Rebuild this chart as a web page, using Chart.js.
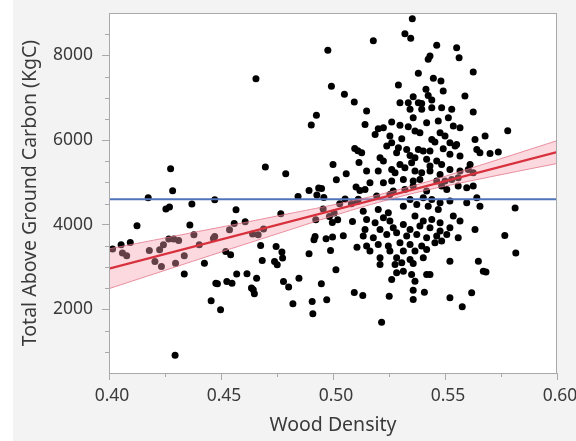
<!DOCTYPE html>
<html><head><meta charset="utf-8">
<script src="https://cdn.jsdelivr.net/npm/chart.js@4.4.1/dist/chart.umd.min.js"></script>
<style>html,body{margin:0;padding:0;background:#f3f3f3;overflow:hidden}#wrap{width:576px;height:441px;position:relative}</style>
</head><body><div id="wrap"><canvas id="c" width="576" height="441"></canvas></div>
<script>
// ---- data ----
const xTickValues = [0.40, 0.45, 0.50, 0.55, 0.60];
const xMinorTicks = [0.425, 0.475, 0.525, 0.575];
const yTickValues = [2000, 4000, 6000, 8000];
const yMinorTicks = [1000, 1500, 2500, 3000, 3500, 4500, 5000, 5500, 6500, 7000, 7500, 8500];
const meanCarbon = 4600;
const fitX = [0.40, 0.60];
const fitY = [2962, 5716];
const bandX = [0.40, 0.42, 0.44, 0.46, 0.48, 0.50, 0.52, 0.54, 0.56, 0.58, 0.60];
const bandUpper = [3432, 3637, 3843, 4048, 4259, 4469, 4704, 4985, 5310, 5646, 5986];
const bandLower = [2492, 2837, 3183, 3528, 3869, 4209, 4524, 4795, 5020, 5236, 5446];
// [wood density, total above ground carbon]
const samples = [
[0.4016,3425],[0.4054,3528],[0.406,3331],[0.4079,3268],[0.4095,3583],[0.4125,3976],[0.4175,4638],[0.418,3394],[0.4205,3134],[0.4226,3409],[0.4234,3016],[0.4243,3528],[0.4254,4370],[0.427,4417],[0.4275,5323],[0.4284,4803],[0.4267,3661],[0.4289,3661],[0.4311,3630],[0.4297,3094],[0.4295,921],[0.4336,3268],[0.4336,2835],[0.4361,3992],[0.437,4488],[0.4379,3764],[0.4403,3528],[0.4426,3094],[0.4456,2205],[0.4466,3677],[0.4472,4590],[0.4472,3724],[0.4477,2622],[0.4484,2606],[0.4498,1992],
[0.4521,3370],[0.4538,3882],[0.4543,3291],[0.4526,2661],[0.4549,2622],[0.4559,4031],[0.4567,4354],[0.457,2835],[0.4608,4071],[0.4616,2843],[0.4636,2504],[0.4644,2465],[0.4649,2370],[0.4641,3780],[0.4656,7449],[0.4659,2740],[0.4666,3764],[0.4677,3512],[0.4684,3157],[0.469,3898],[0.4698,5362],[0.4739,3134],[0.4746,3488],[0.4751,3055],[0.4767,4260],[0.4772,3354],[0.4775,3213],[0.4779,2661],[0.4789,5205],[0.4802,2528],[0.4821,2134],[0.4844,4669],[0.4848,2740],[0.4893,3315],[0.4893,4811],[0.4903,6354],[0.4907,2189],[0.491,1898],[0.4915,3646],[0.492,3724],[0.4923,4118],[0.4926,6583],[0.4928,4701],[0.4936,4866],[0.4948,2606],[0.4949,4858],[0.4956,4370],[0.4959,4646],[0.4969,3669],[0.4972,2228],[0.4977,8118],[0.4984,4197],[0.4989,3394],[0.4993,7268],[0.4997,4055],[0.5,5425],[0.4998,3709],
[0.5005,4276],[0.5013,2937],[0.5015,5063],[0.5021,4118],[0.503,4496],[0.5046,3740],[0.5051,7079],[0.5054,4606],[0.5059,5205],[0.5082,4496],[0.5087,4079],[0.5095,6898],[0.5095,2402],[0.5097,5803],[0.5103,4890],[0.5107,3472],[0.5108,4551],[0.5111,5748],[0.5116,5472],[0.512,4811],[0.5113,4600],
[0.5354,8867],[0.518,8347],[0.5321,8513],[0.5347,8402],[0.5463,8236],[0.5552,8182],[0.5563,7946],[0.5433,7983],[0.5425,7906],[0.5626,7606],[0.5381,7575],[0.5292,7298],[0.5448,7457],[0.5482,7393],[0.5415,7197],[0.5492,7157],[0.5425,7055],[0.5358,7024],[0.5589,7039],[0.5441,6944],[0.5299,6883],[0.5336,6883],[0.5381,6883],[0.5396,6866],
[0.515,6684],[0.5396,6725],[0.5344,6725],[0.5441,6765],[0.5485,6765],[0.553,6725],[0.5626,6661],[0.5358,6528],[0.5418,6410],[0.547,6448],[0.5515,6528],[0.5537,6330],[0.5567,6292],[0.5143,6370],[0.5262,6425],[0.5202,6269],[0.5225,6292],[0.5299,6347],[0.5336,6316],[0.5366,6212],[0.5388,6174],[0.5478,6174],[0.55,6094],[0.5188,6134],[0.5254,6094],[0.5307,6032],[0.5441,6016],[0.5455,5952],[0.5522,5938],[0.5552,5898],[0.5634,6016],[0.5679,6094],[0.5262,5938],[0.524,5858],[0.5292,5820],[0.5329,5780],[0.5381,5780],[0.5403,5740],[0.5433,5740],[0.5492,5796],[0.5545,5858],[0.5128,5702],[0.521,5584],[0.5225,5503],[0.5284,5702],[0.5344,5638],[0.5366,5584],[0.5418,5544],[0.5463,5503],[0.5522,5662],[0.5567,5621],[0.5642,5780],[0.5656,5702],[0.5612,5425],[0.5299,5425],[0.5351,5466],[0.5433,5385],[0.5485,5425],[0.515,5267],[0.5202,5267],[0.5262,5307],[0.5277,5229],[0.5321,5347],[0.5366,5267],[0.5396,5229],[0.5433,5267],[0.5478,5189],[0.5522,5307],[0.5567,5267],[0.5604,5307],[0.5626,5229],[0.5314,5071],[0.5358,5031],[0.5388,5071],[0.5463,5031],[0.55,5031],[0.553,5071],[0.5559,5111],[0.5165,4993],[0.5225,4993],[0.5262,5031],
[0.5143,4835],[0.5358,4913],[0.5485,4913],[0.5559,4913],[0.5597,4875],[0.5626,4913],[0.5269,4795],[0.5321,4835],[0.5418,4795],[0.5508,4835],[0.5195,4677],[0.5254,4717],[0.5344,4599],[0.5403,4639],[0.5441,4599],[0.5478,4521],[0.5522,4559],[0.5597,4521],[0.5642,4639],[0.5656,4440],[0.5135,4322],[0.5202,4363],[0.5247,4285],[0.5314,4440],[0.5374,4481],[0.5425,4440],[0.547,4363],[0.515,4126],[0.5188,4048],[0.5225,4167],[0.5254,4086],[0.5314,4008],[0.5366,4204],[0.5403,4086],[0.5441,4126],[0.5478,4048],[0.5537,4204],[0.5567,4086],[0.5634,3890],[0.5143,3890],[0.521,3890],[0.5269,3930],[0.5344,3890],[0.5388,3968],[0.5433,3930],[0.5478,3850],[0.5522,3930],[0.5135,3732],[0.518,3694],[0.524,3772],[0.5284,3812],[0.5329,3732],[0.5374,3772],[0.5418,3694],[0.5463,3732],[0.5508,3772],[0.5559,3694],[0.515,3496],[0.5202,3536],[0.5247,3496],[0.5299,3576],[0.5344,3536],[0.5396,3496],[0.5455,3576],[0.5485,3614],[0.5165,3378],[0.5254,3378],[0.5314,3378],[0.5366,3378],[0.5418,3418],[0.521,3222],[0.5284,3222],[0.5344,3182],[0.5403,3222],[0.5522,3141],[0.5649,3141],
[0.521,3063],[0.5277,3063],[0.5307,3104],[0.5358,3087],[0.5284,2867],[0.5314,2905],[0.5351,2827],[0.5418,2827],[0.5433,2827],[0.5671,2905],[0.5683,2882],[0.5262,2709],[0.5366,2669],[0.5133,2331],[0.5251,2315],[0.5358,2456],[0.5408,2409],[0.5358,2237],[0.5522,2277],[0.5619,2395],[0.5577,2064],[0.5217,1701],
[0.578,6220],[0.5738,5716],[0.5701,5685],[0.5767,3748],[0.5813,4394],[0.5816,3331]
];
// ---- drawing ----
const FONT = "'Noto Sans', 'Open Sans', sans-serif";
const TXT = '#3a3a3a', AXIS = '#a9a9a9';
const frame = {
  id: 'frame',
  beforeDraw(chart) {
    const {ctx, chartArea: a} = chart;
    ctx.save();
    ctx.fillStyle = '#f3f3f3'; ctx.fillRect(0, 0, chart.width, chart.height);
    ctx.fillStyle = '#ffffff'; ctx.fillRect(0, 0, 13, chart.height);
    ctx.fillRect(a.left, a.top, a.right - a.left, a.bottom - a.top);
    ctx.restore();
  },
  afterDraw(chart) {
    const {ctx, chartArea: a, scales: {x, y}} = chart;
    ctx.save();
    ctx.strokeStyle = AXIS; ctx.lineWidth = 1;
    ctx.strokeRect(a.left + 0.5, a.top + 0.5, a.right - a.left - 1, a.bottom - a.top);
    ctx.beginPath();
    xMinorTicks.forEach(v => { const p = Math.round(x.getPixelForValue(v)) + 0.5; ctx.moveTo(p, a.bottom); ctx.lineTo(p, a.bottom + 4); });
    yMinorTicks.forEach(v => { const p = Math.round(y.getPixelForValue(v)) + 0.5; ctx.moveTo(a.left, p); ctx.lineTo(a.left - 4, p); });
    ctx.stroke();
    ctx.restore();
  }
};
new Chart(document.getElementById('c'), {
  type: 'scatter',
  data: {
    datasets: [
      { type: 'line', data: fitX.map((v, i) => ({x: v, y: fitY[i]})), borderColor: '#d8303c', borderWidth: 2.2, pointRadius: 0, order: 0 },
      { type: 'line', data: bandX.map((v, i) => ({x: v, y: bandUpper[i]})), borderColor: 'rgba(226,110,130,0.75)', borderWidth: 1, pointRadius: 0, tension: 0.4, fill: false, order: 1 },
      { type: 'line', data: bandX.map((v, i) => ({x: v, y: bandLower[i]})), borderColor: 'rgba(226,110,130,0.75)', borderWidth: 1, pointRadius: 0, tension: 0.4, fill: '-1', backgroundColor: 'rgba(244,160,175,0.40)', order: 1 },
      { type: 'line', data: fitX.map(v => ({x: v, y: meanCarbon})), borderColor: '#4f74b8', borderWidth: 2, pointRadius: 0, order: 2 },
      { data: samples.map(p => ({x: p[0], y: p[1]})), backgroundColor: '#000', borderWidth: 0, pointRadius: 3.5, pointHoverRadius: 3.5, order: 3 }
    ]
  },
  options: {
    responsive: false, animation: false, devicePixelRatio: 1,
    layout: { padding: { top: 13, right: 19, bottom: 0, left: 0 } },
    plugins: { legend: { display: false }, tooltip: { enabled: false } },
    scales: {
      x: {
        type: 'linear', min: 0.40, max: 0.60,
        afterBuildTicks: s => { s.ticks = xTickValues.map(v => ({value: v})); },
        afterFit: s => { s.height = 68; s.paddingLeft = 0; s.paddingRight = 0; },
        ticks: { callback: v => Number(v).toFixed(2), color: TXT, font: { family: FONT, size: 17.5 }, padding: 6, maxRotation: 0, labelOffset: 3 },
        grid: { drawOnChartArea: false, drawTicks: true, tickLength: 7, color: AXIS },
        border: { color: AXIS },
        title: { display: true, text: 'Wood Density', color: TXT, font: { family: FONT, size: 19.5 }, padding: { top: 0, bottom: 4 } }
      },
      y: {
        type: 'linear', min: 500, max: 9000,
        afterBuildTicks: s => { s.ticks = yTickValues.map(v => ({value: v})); },
        afterFit: s => { s.width = 109; s.paddingTop = 0; s.paddingBottom = 0; },
        ticks: { callback: v => String(v), color: TXT, font: { family: FONT, size: 17.5 }, padding: 9 },
        grid: { drawOnChartArea: false, drawTicks: true, tickLength: 7, color: AXIS },
        border: { color: AXIS },
        title: { display: true, text: 'Total Above Ground Carbon (KgC)', color: TXT, font: { family: FONT, size: 19.5 }, padding: { top: 19, bottom: 0 } }
      }
    }
  },
  plugins: [frame]
});
</script></body></html>
